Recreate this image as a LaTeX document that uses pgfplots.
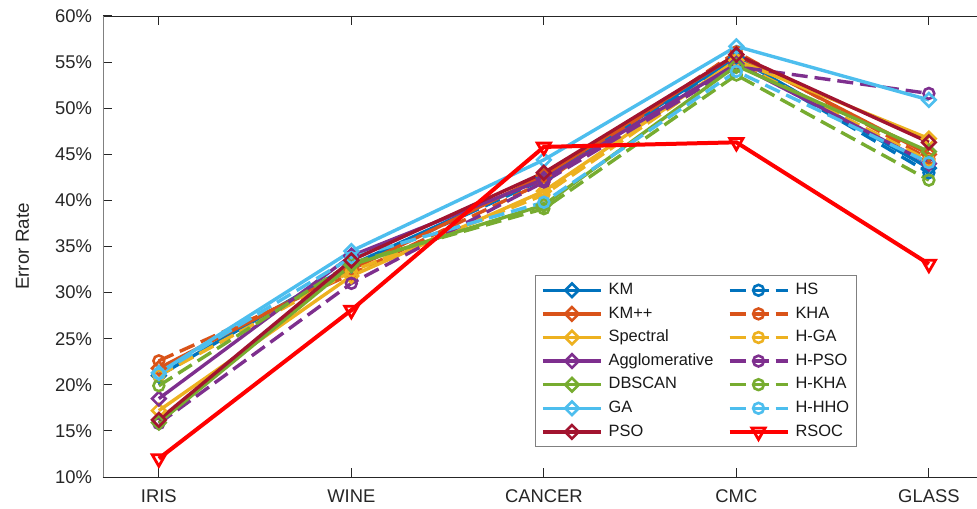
\documentclass[border=0pt]{standalone}
\usepackage{pgfplots}
\pgfplotsset{compat=1.18}
\usepackage{fontspec}
\setmainfont{Liberation Sans}
\definecolor{mblue}{rgb}{0,0.447,0.741}
\definecolor{morange}{rgb}{0.85,0.325,0.098}
\definecolor{myellow}{rgb}{0.929,0.694,0.125}
\definecolor{mpurple}{rgb}{0.494,0.184,0.556}
\definecolor{mgreen}{rgb}{0.466,0.674,0.188}
\definecolor{mlblue}{rgb}{0.301,0.745,0.933}
\definecolor{mdred}{rgb}{0.635,0.078,0.184}
\pgfplotsset{
 dia/.style={line width=1.7pt, mark=square, mark size=2.4pt, mark options={solid, rotate=45, line width=1.3pt}},
 cir/.style={line width=1.7pt, dash pattern=on 8pt off 3.5pt, mark=o, mark size=2.7pt, mark options={solid, line width=1.3pt}},
}
\begin{document}
\begin{tikzpicture}
\begin{axis}[
 scale only axis, width=437pt, height=230.5pt,
 xmin=-0.29, xmax=4.25, ymin=10, ymax=60,
 axis x line=box, axis y line=left,
 x axis line style={draw=black!85},
 y axis line style={-, draw=black!50},
 tick align=inside,
 major tick style={black!85, line width=0.5pt},
 xtick={0,1,2,3,4}, xticklabels={IRIS,WINE,CANCER,CMC,GLASS},
 ytick={10,15,20,25,30,35,40,45,50,55,60},
 yticklabels={10\%,15\%,20\%,25\%,30\%,35\%,40\%,45\%,50\%,55\%,60\%},
 ticklabel style={font=\fontsize{9.2}{11}\selectfont, text=black!85},
 yticklabel style={xshift=-2pt},
 xticklabel style={yshift=-3pt},
 ylabel={Error Rate},
 ylabel style={font=\fontsize{9.4}{11}\selectfont, text=black!85, at={(axis description cs:-0.0847,0.5)}, anchor=base},
 legend columns=2,
 legend cell align=left,
 legend image code/.code={\draw[mark repeat=2,mark phase=2,#1] plot coordinates {(0pt,0pt) (14.5pt,0pt) (29pt,0pt)};},
 legend style={at={(0.494,0.438)}, anchor=north west, draw=black!50, line width=0.5pt,
   font=\fontsize{8.2}{9.5}\selectfont, text=black!90,
   nodes={inner sep=0.5pt, text height=6pt, text depth=1.7pt},
   column sep=2.5pt, row sep=3.1pt,
   /tikz/every even column/.append style={column sep=6.5pt},
   inner xsep=3pt, inner ysep=3pt},
]
\addplot[dia, color=mblue] coordinates {(0,21.0) (1,33.0) (2,42.5) (3,55.5) (4,43.5)};
\addlegendentry{KM}
\addplot[cir, color=mblue] coordinates {(0,21.0) (1,32.8) (2,42.3) (3,55.3) (4,43.0)};
\addlegendentry{HS}
\addplot[dia, color=morange] coordinates {(0,21.8) (1,32.5) (2,42.7) (3,55.8) (4,45.0)};
\addlegendentry{KM++}
\addplot[cir, color=morange] coordinates {(0,22.6) (1,32.0) (2,42.0) (3,56.1) (4,44.5)};
\addlegendentry{KHA}
\addplot[dia, color=myellow] coordinates {(0,17.2) (1,31.8) (2,41.0) (3,55.2) (4,46.7)};
\addlegendentry{Spectral}
\addplot[cir, color=myellow] coordinates {(0,21.0) (1,32.3) (2,40.6) (3,55.0) (4,44.3)};
\addlegendentry{H-GA}
\addplot[dia, color=mpurple] coordinates {(0,18.5) (1,34.0) (2,42.3) (3,54.8) (4,44.0)};
\addlegendentry{Agglomerative}
\addplot[cir, color=mpurple] coordinates {(0,15.8) (1,31.0) (2,42.0) (3,54.5) (4,51.6)};
\addlegendentry{H-PSO}
\addplot[dia, color=mgreen] coordinates {(0,15.9) (1,33.0) (2,39.5) (3,54.6) (4,45.3)};
\addlegendentry{DBSCAN}
\addplot[cir, color=mgreen] coordinates {(0,19.9) (1,33.2) (2,39.1) (3,53.6) (4,42.2)};
\addlegendentry{H-KHA}
\addplot[dia, color=mlblue] coordinates {(0,21.3) (1,34.5) (2,44.4) (3,56.7) (4,50.9)};
\addlegendentry{GA}
\addplot[cir, color=mlblue] coordinates {(0,21.2) (1,33.8) (2,39.8) (3,54.0) (4,44.1)};
\addlegendentry{H-HHO}
\addplot[dia, color=mdred] coordinates {(0,16.2) (1,33.5) (2,43.0) (3,55.8) (4,46.3)};
\addlegendentry{PSO}
\addplot[color=red, line width=2pt, mark=triangle, mark size=3.8pt, mark options={solid, rotate=180, line width=1.4pt}] coordinates {(0,12.0) (1,28.1) (2,45.8) (3,46.3) (4,33.1)};
\addlegendentry{RSOC}
\end{axis}
\pgfresetboundingbox
\path[use as bounding box] ([xshift=-51.5pt,yshift=-15.5pt]current axis.south west) rectangle ([yshift=8pt]current axis.north east);
\end{tikzpicture}
\end{document}
